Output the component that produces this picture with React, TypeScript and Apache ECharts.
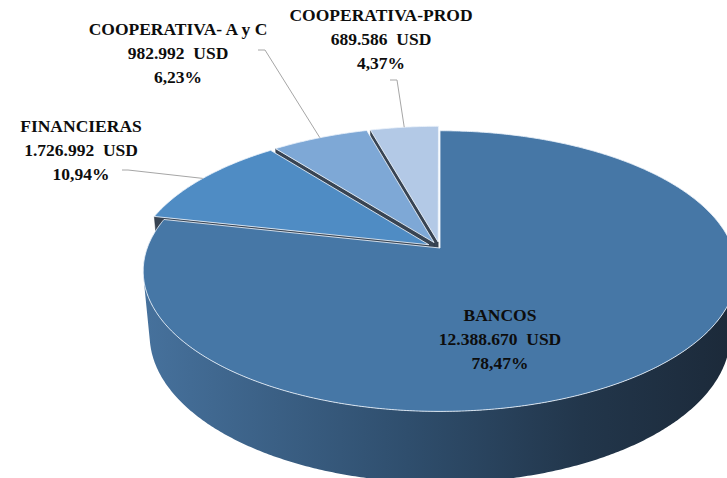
import React, { useEffect, useRef } from 'react';
import * as echarts from 'echarts';

// ---- data ----
const categories = ['BANCOS', 'FINANCIERAS', 'COOPERATIVA- A y C', 'COOPERATIVA-PROD'];
const amounts = [12388670, 1726992, 982992, 689586];
const currency = 'USD';

// ---- styles / layout ----
const topColors = ['#4677a6', '#4f8cc4', '#7ea8d6', '#b3c9e6'];
const explode = [0, 0.045, 0.045, 0.045];
const labelLayout: { x: number; y: number; leader: number[][] | null }[] = [
  { x: 500, y: 339, leader: null },
  { x: 81, y: 150, leader: [[122, 170], [128, 170]] },
  { x: 178, y: 53, leader: [[258, 50], [265, 50]] },
  { x: 381, y: 39, leader: [[390, 80], [397, 80]] },
];

const CX = 440, CY = 248, D = 5.38, F = 1575, ALPHA = (27.8 * Math.PI) / 180, H = 0.25;
const sa = Math.sin(ALPHA), ca = Math.cos(ALPHA);

function project(X: number, Y: number, Z: number): number[] {
  const d = D - (Z * ca + Y * sa);
  const s = F / d;
  return [CX + s * X, CY + s * (Z * sa - Y * ca)];
}

function fmtThousands(n: number): string {
  return String(n).replace(/\B(?=(\d{3})+(?!\d))/g, '.');
}

const total = amounts.reduce((a, b) => a + b, 0);

function sliceAngles(i: number): number[] {
  let acc = 0;
  for (let k = 0; k < i; k++) acc += amounts[k];
  const a0 = (acc / total) * Math.PI * 2;
  const a1 = ((acc + amounts[i]) / total) * Math.PI * 2;
  return [a0, a1];
}

function sliceOffset(i: number): number[] {
  const [a0, a1] = sliceAngles(i);
  const m = (a0 + a1) / 2;
  return [explode[i] * Math.sin(m), -explode[i] * Math.cos(m)];
}

// rank: farthest first (by depth of slice mid direction)
const ranks = (() => {
  const idx = amounts.map((_, i) => i);
  const zOf = (i: number) => {
    const [a0, a1] = sliceAngles(i);
    return -Math.cos((a0 + a1) / 2);
  };
  idx.sort((p, q) => zOf(p) - zOf(q));
  const r: number[] = [];
  idx.forEach((i, k) => (r[i] = k));
  return r;
})();

const wallGradient = () =>
  new echarts.graphic.LinearGradient(
    146, 0, 727, 0,
    [
      { offset: 0, color: '#46719c' },
      { offset: 0.45, color: '#2f4e6d' },
      { offset: 0.75, color: '#22364b' },
      { offset: 1, color: '#1c2a3a' },
    ],
    true
  );

function renderItem(params: any, api: any) {
  const i = params.dataIndex;
  const [a0, a1] = sliceAngles(i);
  const [ox, oz] = sliceOffset(i);
  const rank = ranks[i];
  const children: any[] = [];
  const camZ = D * ca;
  const step = Math.PI / 360;

  const rim = (phi: number, Y: number) => project(ox + Math.sin(phi), Y, oz - Math.cos(phi));

  // outer wall
  const vis: number[] = [];
  const n = Math.max(2, Math.ceil((a1 - a0) / step));
  for (let k = 0; k <= n; k++) {
    const phi = a0 + ((a1 - a0) * k) / n;
    const nx = Math.sin(phi), nz = -Math.cos(phi);
    const px = ox + nx, pz = oz + nz;
    const dot = nx * (0 - px) + nz * (camZ - pz);
    if (dot > 0) vis.push(phi);
  }
  if (vis.length > 1) {
    const pts: number[][] = [];
    vis.forEach((phi) => pts.push(rim(phi, 0)));
    for (let k = vis.length - 1; k >= 0; k--) pts.push(rim(vis[k], -H));
    children.push({
      type: 'polygon',
      z2: rank * 10 + 1,
      shape: { points: pts },
      style: { fill: wallGradient(), stroke: null },
    });
  }

  // radial faces
  [
    [a0, -1],
    [a1, 1],
  ].forEach(([a, sgn]) => {
    const nx = sgn * Math.cos(a), nz = sgn * Math.sin(a);
    const px = ox + 0.5 * Math.sin(a), pz = oz - 0.5 * Math.cos(a);
    const dot = nx * (0 - px) + nz * (camZ - pz);
    if (dot > 0.01) {
      const pts = [
        project(ox, 0, oz),
        rim(a, 0),
        rim(a, -H),
        project(ox, -H, oz),
      ];
      children.push({
        type: 'polygon',
        z2: rank * 10 + 2,
        shape: { points: pts },
        style: { fill: '#384453', stroke: '#2a3440', lineWidth: 0.5 },
      });
    }
  });

  // top face
  const topPts: number[][] = [project(ox, 0, oz)];
  for (let k = 0; k <= n; k++) topPts.push(rim(a0 + ((a1 - a0) * k) / n, 0));
  children.push({
    type: 'polygon',
    z2: rank * 10 + 5,
    shape: { points: topPts },
    style: { fill: topColors[i], stroke: 'rgba(235,242,250,0.85)', lineWidth: 1 },
  });

  // label
  const lay = labelLayout[i];
  const pct = ((api.value(1) / total) * 100).toFixed(2).replace('.', ',') + '%';
  children.push({
    type: 'text',
    z2: 100,
    x: lay.x,
    y: lay.y,
    style: {
      text: `${categories[i]}\n${fmtThousands(api.value(1))}  ${currency}\n${pct}`,
      fill: '#0d0d0d',
      font: 'bold 17.5px "Liberation Serif", serif',
      lineHeight: 24,
      align: 'center',
      verticalAlign: 'middle',
    },
  });

  if (lay.leader) {
    const m = (a0 + a1) / 2;
    const end = rim(m, 0);
    children.push({
      type: 'polyline',
      z2: 99,
      shape: { points: [...lay.leader, end] },
      style: { stroke: '#a6a6a6', lineWidth: 1, fill: null },
    });
  }

  return { type: 'group', children };
}

export default function App() {
  const ref = useRef<HTMLDivElement>(null);
  useEffect(() => {
    if (!ref.current) return;
    const chart = echarts.init(ref.current, undefined, { renderer: 'svg' });
    chart.setOption({
      animation: false,
      backgroundColor: '#ffffff',
      series: [
        {
          type: 'custom',
          coordinateSystem: 'none',
          silent: true,
          renderItem,
          data: amounts.map((v, i) => [i, v]),
        },
      ],
    });
    return () => chart.dispose();
  }, []);
  return (
    <div
      ref={ref}
      style={{ position: 'fixed', left: 0, top: 0, width: 727, height: 478 }}
    />
  );
}
